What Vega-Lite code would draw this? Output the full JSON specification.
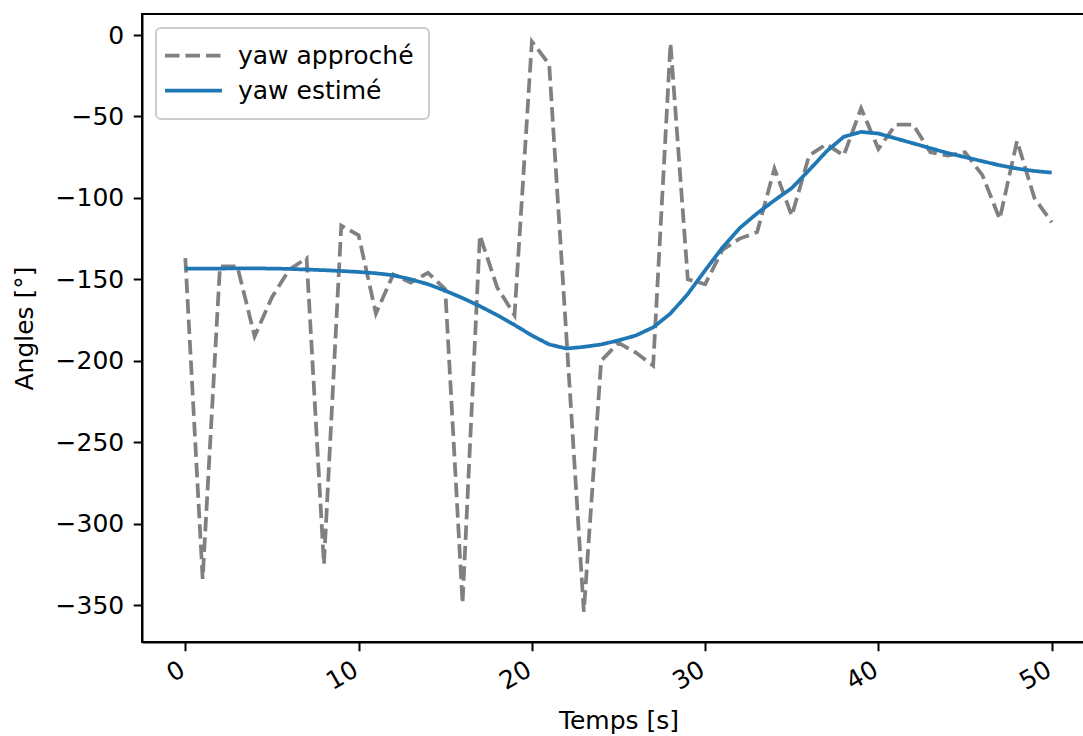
{
  "$schema": "https://vega.github.io/schema/vega-lite/v6.json",
  "width": 953,
  "height": 628,
  "autosize": {"type": "none"},
  "padding": {"left": 142, "top": 14, "right": 0, "bottom": 94},
  "background": "white",
  "config": {
    "font": "DejaVu Sans",
    "view": {"stroke": "black", "strokeWidth": 2},
    "axis": {
      "grid": false,
      "domainColor": "black",
      "domainWidth": 2,
      "tickColor": "black",
      "tickWidth": 2,
      "tickSize": 8.75,
      "labelFont": "DejaVu Sans",
      "labelFontSize": 25,
      "labelColor": "black",
      "labelPadding": 6,
      "titleFont": "DejaVu Sans",
      "titleFontSize": 25,
      "titleFontWeight": "normal",
      "titleColor": "black"
    },
    "legend": {
      "orient": "none",
      "legendX": 14,
      "legendY": 14,
      "direction": "vertical",
      "fillColor": "rgba(255,255,255,0.8)",
      "strokeColor": "#cccccc",
      "strokeWidth": 2,
      "cornerRadius": 5,
      "padding": 15,
      "symbolType": "M-4,0H4",
      "symbolSize": 203,
      "symbolStrokeWidth": 3.75,
      "symbolOffset": 10,
      "labelFont": "DejaVu Sans",
      "labelFontSize": 25,
      "labelColor": "black",
      "labelOffset": 32,
      "rowPadding": 9,
      "labelLimit": 400
    }
  },
  "data": {
    "values": [
      {"t": 0, "v": -137, "s": "yaw approché"},
      {"t": 1, "v": -334, "s": "yaw approché"},
      {"t": 2, "v": -142, "s": "yaw approché"},
      {"t": 3, "v": -142, "s": "yaw approché"},
      {"t": 4, "v": -185, "s": "yaw approché"},
      {"t": 5, "v": -161, "s": "yaw approché"},
      {"t": 6, "v": -144, "s": "yaw approché"},
      {"t": 7, "v": -137, "s": "yaw approché"},
      {"t": 8, "v": -325, "s": "yaw approché"},
      {"t": 9, "v": -117, "s": "yaw approché"},
      {"t": 10, "v": -123, "s": "yaw approché"},
      {"t": 11, "v": -171, "s": "yaw approché"},
      {"t": 12, "v": -147, "s": "yaw approché"},
      {"t": 13, "v": -152, "s": "yaw approché"},
      {"t": 14, "v": -146, "s": "yaw approché"},
      {"t": 15, "v": -156, "s": "yaw approché"},
      {"t": 16, "v": -349, "s": "yaw approché"},
      {"t": 17, "v": -123, "s": "yaw approché"},
      {"t": 18, "v": -155, "s": "yaw approché"},
      {"t": 19, "v": -172, "s": "yaw approché"},
      {"t": 20, "v": -4, "s": "yaw approché"},
      {"t": 21, "v": -18, "s": "yaw approché"},
      {"t": 22, "v": -186, "s": "yaw approché"},
      {"t": 23, "v": -354, "s": "yaw approché"},
      {"t": 24, "v": -200, "s": "yaw approché"},
      {"t": 25, "v": -189, "s": "yaw approché"},
      {"t": 26, "v": -195, "s": "yaw approché"},
      {"t": 27, "v": -203, "s": "yaw approché"},
      {"t": 28, "v": -5, "s": "yaw approché"},
      {"t": 29, "v": -150, "s": "yaw approché"},
      {"t": 30, "v": -153, "s": "yaw approché"},
      {"t": 31, "v": -132, "s": "yaw approché"},
      {"t": 32, "v": -125, "s": "yaw approché"},
      {"t": 33, "v": -121, "s": "yaw approché"},
      {"t": 34, "v": -82, "s": "yaw approché"},
      {"t": 35, "v": -111, "s": "yaw approché"},
      {"t": 36, "v": -74, "s": "yaw approché"},
      {"t": 37, "v": -67, "s": "yaw approché"},
      {"t": 38, "v": -74, "s": "yaw approché"},
      {"t": 39, "v": -45, "s": "yaw approché"},
      {"t": 40, "v": -70, "s": "yaw approché"},
      {"t": 41, "v": -55, "s": "yaw approché"},
      {"t": 42, "v": -55, "s": "yaw approché"},
      {"t": 43, "v": -72, "s": "yaw approché"},
      {"t": 44, "v": -74, "s": "yaw approché"},
      {"t": 45, "v": -72, "s": "yaw approché"},
      {"t": 46, "v": -86, "s": "yaw approché"},
      {"t": 47, "v": -113, "s": "yaw approché"},
      {"t": 48, "v": -65, "s": "yaw approché"},
      {"t": 49, "v": -100, "s": "yaw approché"},
      {"t": 50, "v": -115, "s": "yaw approché"},
      {"t": 0, "v": -143.5, "s": "yaw estimé"},
      {"t": 1, "v": -143.5, "s": "yaw estimé"},
      {"t": 2, "v": -143.4, "s": "yaw estimé"},
      {"t": 3, "v": -143.3, "s": "yaw estimé"},
      {"t": 4, "v": -143.3, "s": "yaw estimé"},
      {"t": 5, "v": -143.4, "s": "yaw estimé"},
      {"t": 6, "v": -143.6, "s": "yaw estimé"},
      {"t": 7, "v": -144, "s": "yaw estimé"},
      {"t": 8, "v": -144.4, "s": "yaw estimé"},
      {"t": 9, "v": -144.9, "s": "yaw estimé"},
      {"t": 10, "v": -145.5, "s": "yaw estimé"},
      {"t": 11, "v": -146.3, "s": "yaw estimé"},
      {"t": 12, "v": -147.5, "s": "yaw estimé"},
      {"t": 13, "v": -150, "s": "yaw estimé"},
      {"t": 14, "v": -153, "s": "yaw estimé"},
      {"t": 15, "v": -157, "s": "yaw estimé"},
      {"t": 16, "v": -161.5, "s": "yaw estimé"},
      {"t": 17, "v": -166.5, "s": "yaw estimé"},
      {"t": 18, "v": -172, "s": "yaw estimé"},
      {"t": 19, "v": -178, "s": "yaw estimé"},
      {"t": 20, "v": -184.5, "s": "yaw estimé"},
      {"t": 21, "v": -190, "s": "yaw estimé"},
      {"t": 22, "v": -192.5, "s": "yaw estimé"},
      {"t": 23, "v": -191.5, "s": "yaw estimé"},
      {"t": 24, "v": -190, "s": "yaw estimé"},
      {"t": 25, "v": -187.5, "s": "yaw estimé"},
      {"t": 26, "v": -184.5, "s": "yaw estimé"},
      {"t": 27, "v": -179.5, "s": "yaw estimé"},
      {"t": 28, "v": -171, "s": "yaw estimé"},
      {"t": 29, "v": -159, "s": "yaw estimé"},
      {"t": 30, "v": -144.5, "s": "yaw estimé"},
      {"t": 31, "v": -130.5, "s": "yaw estimé"},
      {"t": 32, "v": -118.5, "s": "yaw estimé"},
      {"t": 33, "v": -109.5, "s": "yaw estimé"},
      {"t": 34, "v": -101.5, "s": "yaw estimé"},
      {"t": 35, "v": -94, "s": "yaw estimé"},
      {"t": 36, "v": -83, "s": "yaw estimé"},
      {"t": 37, "v": -71.5, "s": "yaw estimé"},
      {"t": 38, "v": -62.5, "s": "yaw estimé"},
      {"t": 39, "v": -59.5, "s": "yaw estimé"},
      {"t": 40, "v": -60.5, "s": "yaw estimé"},
      {"t": 41, "v": -63.5, "s": "yaw estimé"},
      {"t": 42, "v": -66.5, "s": "yaw estimé"},
      {"t": 43, "v": -69.5, "s": "yaw estimé"},
      {"t": 44, "v": -72.5, "s": "yaw estimé"},
      {"t": 45, "v": -75, "s": "yaw estimé"},
      {"t": 46, "v": -77.5, "s": "yaw estimé"},
      {"t": 47, "v": -80, "s": "yaw estimé"},
      {"t": 48, "v": -82, "s": "yaw estimé"},
      {"t": 49, "v": -83.5, "s": "yaw estimé"},
      {"t": 50, "v": -84.5, "s": "yaw estimé"}
    ]
  },
  "mark": {"type": "line", "strokeWidth": 3.75, "clip": true},
  "encoding": {
    "x": {
      "field": "t",
      "type": "quantitative",
      "scale": {"domain": [-2.5, 52.5], "nice": false, "zero": false},
      "axis": {
        "values": [0, 10, 20, 30, 40, 50],
        "title": "Temps [s]",
        "labelAngle": -30,
        "labelAlign": "right",
        "labelBaseline": "top",
        "labelFlush": false,
        "labelOffset": -9,
        "titlePadding": 14
      }
    },
    "y": {
      "field": "v",
      "type": "quantitative",
      "scale": {"domain": [-372.7, 12.9], "nice": false, "zero": false},
      "axis": {
        "values": [0, -50, -100, -150, -200, -250, -300, -350],
        "title": "Angles [°]",
        "labelPadding": 9.5,
        "titlePadding": 17.5
      }
    },
    "color": {
      "field": "s",
      "type": "nominal",
      "scale": {"domain": ["yaw approché", "yaw estimé"], "range": ["#808080", "#1f77b4"]},
      "legend": {"title": null}
    },
    "strokeDash": {
      "field": "s",
      "type": "nominal",
      "scale": {"domain": ["yaw approché", "yaw estimé"], "range": [[14.5, 6], [1, 0]]},
      "legend": {"title": null}
    }
  }
}
